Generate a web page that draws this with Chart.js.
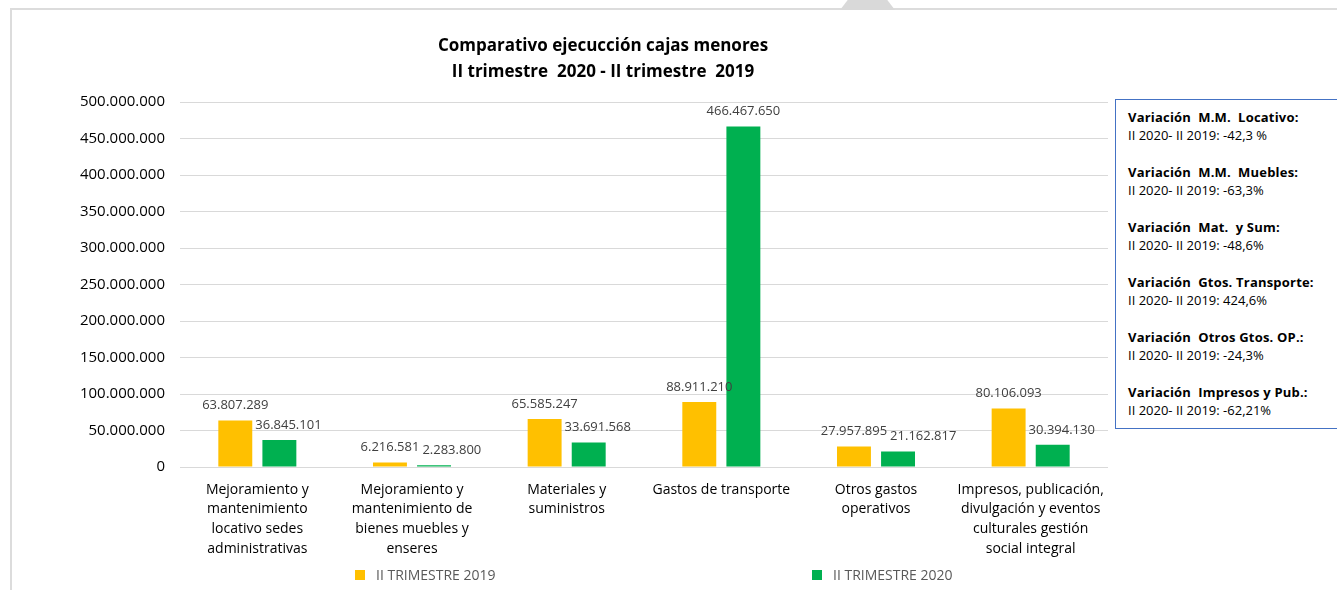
<!DOCTYPE html>
<html lang="es">
<head>
<meta charset="utf-8">
<title>Comparativo ejecucción cajas menores</title>
<script src="https://cdn.jsdelivr.net/npm/chart.js@4.4.1/dist/chart.umd.min.js"></script>
<style>
  html, body { margin: 0; padding: 0; background: #fff; overflow: hidden; }
  #wrap { position: relative; width: 1337px; height: 590px; }
  #chart { position: absolute; left: 0; top: 0; }
  .frame { position: absolute; left: 10px; top: 8px; right: 0; bottom: 0;
           border-top: 2px solid #dcdcdc; border-left: 2px solid #dcdcdc; pointer-events: none; }
  .tab { position: absolute; left: 840px; top: 0; width: 55px; height: 10px; background: #d9d9d9;
         clip-path: polygon(14% 0, 86% 0, 100% 100%, 0 100%); }
  .note { position: absolute; left: 1115px; top: 99px; width: 240px; height: 330px;
          border: 1px solid #4472c4; box-sizing: border-box; padding: 8px 0 0 12px;
          font-family: "Open Sans", sans-serif; font-size: 13px; color: #000; background: #fff; }
  .note .item { margin-bottom: 19px; line-height: 18px; white-space: pre; }
  .note .head { font-weight: bold; letter-spacing: 0.2px; }
</style>
</head>
<body>
<div id="wrap">
  <canvas id="chart" width="1337" height="590"></canvas>
  <div class="frame"></div>
  <div class="tab"></div>
  <div class="note" id="note"></div>
</div>
<script>
// Categories (multi-line axis labels)
const categories = [
  ["Mejoramiento y", "mantenimiento", "locativo sedes", "administrativas"],
  ["Mejoramiento y", "mantenimiento de", "bienes muebles y", "enseres"],
  ["Materiales y", "suministros"],
  ["Gastos de transporte"],
  ["Otros gastos", "operativos"],
  ["Impresos, publicación,", "divulgación y eventos", "culturales gestión", "social integral"]
];

// Series
const seriesNames = ["II TRIMESTRE 2019", "II TRIMESTRE 2020"];
const values2019 = [63807289, 6216581, 65585247, 88911210, 27957895, 80106093];
const values2020 = [36845101, 2283800, 33691568, 466467650, 21162817, 30394130];

// Value axis
const yMax = 500000000;
const yStep = 50000000;

// Title lines
const titleLines = ["Comparativo ejecucción cajas menores", "II trimestre  2020 - II trimestre  2019"];

// Variation notes
const noteHeads = [
  "Variación  M.M.  Locativo:",
  "Variación  M.M.  Muebles:",
  "Variación  Mat.  y Sum:",
  "Variación  Gtos. Transporte:",
  "Variación  Otros Gtos. OP.:",
  "Variación  Impresos y Pub.:"
];
const noteValues = [
  "II 2020- II 2019: -42,3 %",
  "II 2020- II 2019: -63,3%",
  "II 2020- II 2019: -48,6%",
  "II 2020- II 2019: 424,6%",
  "II 2020- II 2019: -24,3%",
  "II 2020- II 2019: -62,21%"
];

const note = document.getElementById("note");
noteHeads.forEach((h, i) => {
  const d = document.createElement("div");
  d.className = "item";
  const a = document.createElement("div");
  a.className = "head";
  a.textContent = h;
  const b = document.createElement("div");
  b.textContent = noteValues[i];
  d.appendChild(a); d.appendChild(b);
  note.appendChild(d);
});

const fmt = v => String(Math.round(v)).replace(/\B(?=(\d{3})+(?!\d))/g, ".");
const FONT = '"Open Sans", sans-serif';

// Value labels above each bar; a label that would collide with the
// neighbouring bar or its label is nudged to the right.
const barLabels = {
  id: "barLabels",
  afterDatasetsDraw(chart) {
    const ctx = chart.ctx;
    ctx.save();
    ctx.font = "13px " + FONT;
    ctx.fillStyle = "#404040";
    ctx.textAlign = "center";
    ctx.textBaseline = "middle";
    const h = 14;
    const gap = 3;
    const placed = [];
    chart.data.datasets.forEach((ds, di) => {
      chart.getDatasetMeta(di).data.forEach((bar, i) => {
        const text = fmt(ds.data[i]);
        const w = ctx.measureText(text).width;
        let cx = bar.x;
        const cy = bar.y - 15;
        if (di > 0) {
          const prevBar = chart.getDatasetMeta(di - 1).data[i];
          const obstacles = [
            placed[(di - 1) * 100 + i],
            { l: prevBar.x - prevBar.width / 2, r: prevBar.x + prevBar.width / 2, t: prevBar.y, b: prevBar.base }
          ];
          obstacles.forEach(o => {
            const l = cx - w / 2, r = cx + w / 2, t = cy - h / 2, b = cy + h / 2;
            if (o && l < o.r && r > o.l && t < o.b && b > o.t) {
              cx = o.r + gap + w / 2;
            }
          });
        }
        placed[di * 100 + i] = { l: cx - w / 2, r: cx + w / 2, t: cy - h / 2, b: cy + h / 2 };
        ctx.fillText(text, cx, cy);
      });
    });
    ctx.restore();
  }
};

// Title and spread-out legend
const decorations = {
  id: "decorations",
  afterDraw(chart) {
    const ctx = chart.ctx;
    ctx.save();
    ctx.font = "bold 17px " + FONT;
    ctx.fillStyle = "#000";
    ctx.textAlign = "center";
    ctx.textBaseline = "middle";
    ctx.fillText(titleLines[0], 603, 46);
    ctx.fillText(titleLines[1], 603, 72);

    const legendX = [355, 812];
    ctx.font = "14px " + FONT;
    ctx.textAlign = "left";
    chart.data.datasets.forEach((ds, i) => {
      ctx.fillStyle = ds.backgroundColor;
      ctx.fillRect(legendX[i], 570, 10, 10);
      ctx.fillStyle = "#595959";
      ctx.fillText(ds.label, legendX[i] + 21, 576);
    });
    ctx.restore();
  }
};

new Chart(document.getElementById("chart"), {
  type: "bar",
  data: {
    labels: categories,
    datasets: [
      { label: seriesNames[0], data: values2019, backgroundColor: "#FFC000",
        categoryPercentage: 0.57, barPercentage: 0.77 },
      { label: seriesNames[1], data: values2020, backgroundColor: "#00B050",
        categoryPercentage: 0.57, barPercentage: 0.77 }
    ]
  },
  options: {
    responsive: false,
    animation: false,
    layout: { padding: { left: 0, right: 229, top: 102, bottom: 0 } },
    plugins: {
      legend: { display: false },
      title: { display: false },
      tooltip: { enabled: false }
    },
    scales: {
      x: {
        grid: { display: false, drawTicks: false },
        border: { display: false },
        ticks: { color: "#000", font: { family: FONT, size: 14, lineHeight: 1.4 }, padding: 13, maxRotation: 0, autoSkip: false },
        afterFit(scale) { scale.height = 123; }
      },
      y: {
        min: 0, max: yMax,
        grid: { color: "#d9d9d9", lineWidth: 1, drawTicks: false },
        border: { display: false },
        ticks: { stepSize: yStep, color: "#000", font: { family: FONT, size: 15 }, padding: 15,
                 callback: v => fmt(v) },
        afterFit(scale) { scale.width = 180; }
      }
    }
  },
  plugins: [barLabels, decorations]
});
</script>
</body>
</html>
